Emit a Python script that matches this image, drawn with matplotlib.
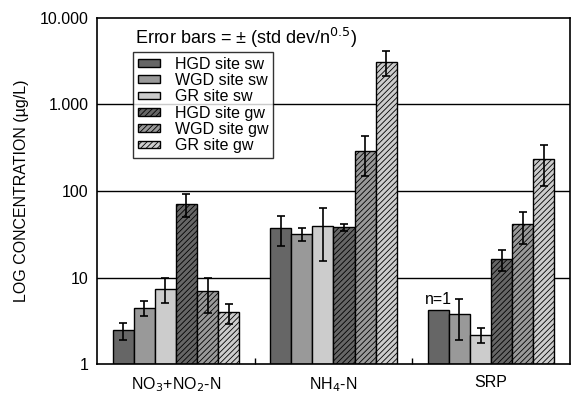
import matplotlib.pyplot as plt
import numpy as np

plt.rcParams['font.family'] = ['Liberation Sans', 'DejaVu Sans']
plt.rcParams['hatch.linewidth'] = 0.6

groups = ['NO$_3$+NO$_2$-N', 'NH$_4$-N', 'SRP']
series = ['HGD site sw', 'WGD site sw', 'GR site sw',
          'HGD site gw', 'WGD site gw', 'GR site gw']

# rows: series, cols: groups
values = [
    [2.5, 37, 4.2],
    [4.5, 31.6, 3.8],
    [7.4, 39, 2.16],
    [71, 38, 16.2],
    [6.9, 292, 41],
    [3.96, 3125, 232],
]
err_hi = [
    [3.0, 52, np.nan],
    [5.3, 37.6, 5.7],
    [9.9, 63.5, 2.58],
    [91.5, 41.6, 20.6],
    [10.0, 430, 57],
    [4.9, 4170, 344],
]
err_lo = [
    [1.9, 23, np.nan],
    [3.6, 26.5, 1.9],
    [5.1, 15.5, 1.73],
    [50, 34.4, 11.8],
    [3.9, 148, 24.2],
    [2.9, 2140, 114],
]

colors = ['#666666', '#999999', '#cccccc', '#666666', '#999999', '#cccccc']
hatches = [None, None, None, '//////', '//////', '//////']

fig = plt.figure(figsize=(5.71, 3.98), dpi=100)
ax = fig.add_axes([0.170, 0.0854, 0.828, 0.8694])

x = np.arange(len(groups))
w = 0.134
for i in range(len(series)):
    v = np.array(values[i])
    pos = x + (i - 2.5) * w
    ax.bar(pos, v - 1, w, bottom=1, color=colors[i], edgecolor='black',
           linewidth=1.0, hatch=hatches[i], label=series[i], zorder=2)
    lo = v - np.array(err_lo[i])
    hi = np.array(err_hi[i]) - v
    ok = ~np.isnan(lo)
    ax.errorbar(pos[ok], v[ok], yerr=[lo[ok], hi[ok]], fmt='none',
                ecolor='black', elinewidth=1.2, capsize=3, capthick=1.2, zorder=3)

ax.set_yscale('log')
ax.set_ylim(1, 10000)
ax.set_xlim(-0.5, 2.5)
ax.set_yticks([1, 10, 100, 1000, 10000])
ax.set_yticklabels(['1', '10', '100', '1.000', '10.000'], fontsize=11.5)
ax.yaxis.set_minor_locator(plt.NullLocator())
ax.tick_params(axis='y', length=0, pad=6)
ax.set_xticks(x)
ax.set_xticklabels(groups, fontsize=11.5)
ax.tick_params(axis='x', length=0, pad=8)
ax.set_xticks([0.5, 1.5], minor=True)
ax.tick_params(axis='x', which='minor', direction='in', length=4, width=1)
for yv in [10, 100, 1000]:
    ax.axhline(yv, color='black', linewidth=1, zorder=1)
for s in ax.spines.values():
    s.set_linewidth(1.2)

ax.set_ylabel('LOG CONCENTRATION (µg/L)', fontsize=11.5, labelpad=8)
ax.text(0.08, 0.978, 'Error bars = ± (std dev/n$^{0.5}$)', transform=ax.transAxes,
        fontsize=13, va='top', ha='left')
ax.text(x[2] - 2.5 * w, 4.6, 'n=1', fontsize=11.5, ha='center', va='bottom')

leg = ax.legend(loc='upper left', bbox_to_anchor=(0.076, 0.902), fontsize=11.5,
                frameon=True, fancybox=False, edgecolor='black', borderaxespad=0,
                handlelength=1.4, handleheight=0.35, labelspacing=0.08,
                borderpad=0.3, handletextpad=0.9)
leg.get_frame().set_linewidth(1.0)

fig.savefig('out.png', dpi=100)
